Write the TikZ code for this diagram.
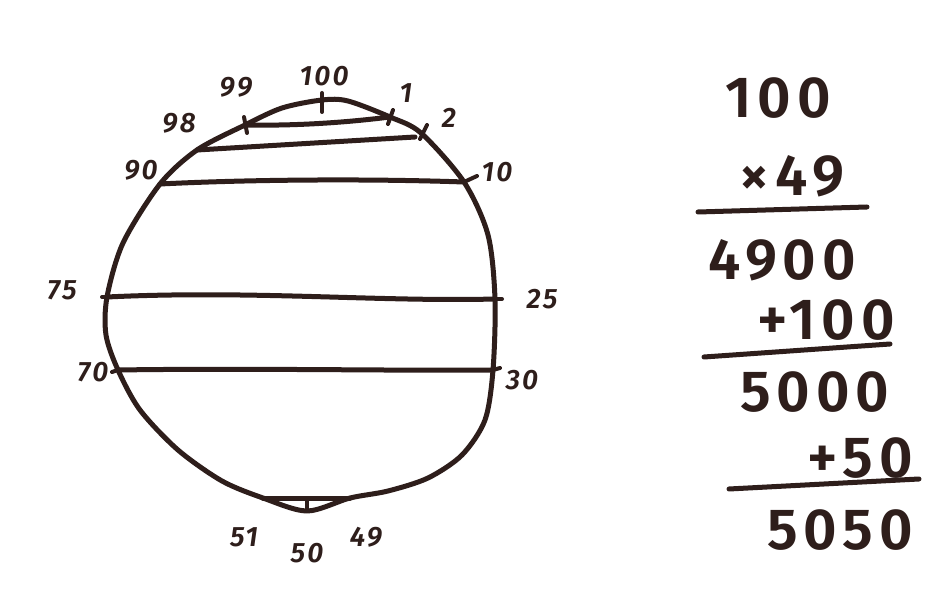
\documentclass[tikz,border=0pt]{standalone}
\usepackage{fontspec}
\setmainfont{Fira Sans}
\newfontfamily\handbig[LetterSpace=10]{Fira Sans SemiBold}
\newfontfamily\handsmall[LetterSpace=8]{Fira Sans SemiBold}
\definecolor{ink}{HTML}{2E1E1B}
\begin{document}
\begin{tikzpicture}[x=1pt,y=-1pt,
  inkline/.style={draw=ink,line width=5pt,line cap=round,line join=round},
  tick/.style={draw=ink,line width=4pt,line cap=round},
  lbl/.style={text=ink,font=\fontsize{28}{28}\handsmall\itshape,inner sep=0pt},
  big/.style={text=ink,font=\fontsize{58}{58}\handbig,inner sep=0pt}]
\useasboundingbox[fill=white] (0,0) rectangle (926,609);
% points on the circle
\coordinate (p100) at (322,100);
\coordinate (p1) at (390,117);
\coordinate (p2) at (421,133);
\coordinate (p10) at (464,182);
\coordinate (p25) at (495,299);
\coordinate (p30) at (493,370);
\coordinate (p49) at (350,498);
\coordinate (p50) at (307,511);
\coordinate (p51) at (263,498);
\coordinate (p70) at (118,370);
\coordinate (p75) at (107,297);
\coordinate (p90) at (160,184);
\coordinate (p98) at (197,150);
\coordinate (p99) at (245,125);
% outline
\draw[inkline] plot[smooth cycle, tension=0.5] coordinates {
  (p100) (348,101) (p1) (p2) (p10) (488,235) (p25) (p30) (485,420)
  (462,455) (428,478) (388,491) (p49) (p50) (p51) (222,481) (178,450)
  (140,410) (p70) (106,335) (p75) (123,243) (p90) (p98) (p99) (282,108)};
% chords
\coordinate (c98e) at (415,137);
\coordinate (c50t) at (307,499);
\draw[inkline] (p99) .. controls (300,126) and (350,122) .. (p1);
\draw[inkline] (p98) -- (c98e);
\draw[inkline] (p90) .. controls (260,179) and (380,179) .. (p10);
\draw[inkline] (p75) .. controls (250,290) and (380,302) .. (p25);
\draw[inkline] (p70) .. controls (250,368) and (400,371) .. (p30);
\draw[inkline] (p51) -- (p49);
% ticks
\coordinate (t100) at (322,93);
\coordinate (t99) at (244,117);
\coordinate (t1) at (393,110);
\coordinate (t2) at (427,125);
\coordinate (t10) at (477,176);
\coordinate (t25) at (502,299);
\coordinate (t30) at (500,368);
\coordinate (t75) at (102,297);
\coordinate (t70) at (112,372);
\draw[tick] (t100) -- (p100) -- (322,112);
\draw[tick] (t99) -- (247,133);
\draw[tick] (t1) -- (388,124);
\draw[tick] (t2) -- (420,139);
\draw[tick] (p10) -- (t10);
\draw[tick] (p25) -- (t25);
\draw[tick] (p30) -- (t30);
\draw[tick] (p75) -- (t75);
\draw[tick] (p70) -- (t70);
\draw[tick] (c50t) -- (p50);
% labels
\node[lbl] (l100) at (324,76) {100};
\node[lbl] (l99) at (236,87) {99};
\node[lbl] (l1) at (406,93) {1};
\node[lbl] (l2) at (449,118) {2};
\node[lbl] (l98) at (179,123) {98};
\node[lbl] (l90) at (141,170) {90};
\node[lbl] (l10) at (497,172) {10};
\node[lbl] (l75) at (62,290) {75};
\node[lbl] (l25) at (542,299) {25};
\node[lbl] (l70) at (93,372) {70};
\node[lbl] (l30) at (522,380) {30};
\node[lbl] (l51) at (244,537) {51};
\node[lbl] (l50) at (307,553) {50};
\node[lbl] (l49) at (366,537) {49};
% arithmetic
\node[big] (a1) at (778,98) {100};
\node[big] (a2) at (792,176) {×49};
\coordinate (r1a) at (698,212);
\coordinate (r1b) at (867,207);
\draw[inkline] (r1a) -- (r1b);
\node[big] (a3) at (782,260) {4900};
\node[big] (a4) at (826,320) {+100};
\coordinate (r2a) at (704,357);
\coordinate (r2b) at (890,344);
\draw[inkline] (r2a) -- (r2b);
\node[big] (a5) at (815,392) {5000};
\node[big] (a6) at (860,458) {+50};
\coordinate (r3a) at (729,489);
\coordinate (r3b) at (919,479);
\draw[inkline] (r3a) -- (r3b);
\node[big] (a7) at (840,530) {5050};
\end{tikzpicture}
\end{document}
